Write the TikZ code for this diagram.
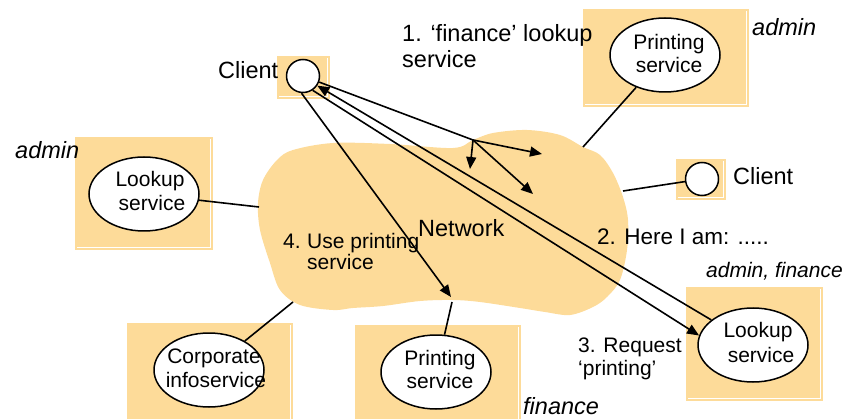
\documentclass[tikz,border=0pt]{standalone}
\usepackage{fontspec}
\setmainfont{Liberation Sans}
\usetikzlibrary{arrows.meta,shapes.geometric}
\definecolor{boxfill}{RGB}{253,219,153}
\begin{document}
\begin{tikzpicture}[x=1pt,y=-1pt,
  txt/.style={inner sep=0pt, anchor=base west, font=\fontsize{21}{24}\selectfont},
  bigtxt/.style={txt, font=\fontsize{23.5}{26}\selectfont},
  itxt/.style={txt, font=\fontsize{21}{24}\selectfont\itshape},
  bigitxt/.style={txt, font=\fontsize{23.5}{26}\selectfont\itshape},
  ctxt/.style={inner sep=0pt, anchor=base, font=\fontsize{21}{24}\selectfont},
  ln/.style={line width=1.6pt, black},
  arr/.style={ln, -{Triangle[length=12pt,width=10pt]}},
  ell/.style={ellipse, draw, line width=1.5pt, fill=white, minimum width=110pt, minimum height=74pt, inner sep=0pt},
  cli/.style={circle, draw, line width=1.5pt, fill=white, minimum size=33pt, inner sep=0pt},
  hl/.style={white, line width=0.8pt}
]
\useasboundingbox (0,0) rectangle (845,419);

% boxes
\fill[boxfill] (583,9) rectangle (749,107);
\draw[hl] (746,11) -- (746,104) -- (585,104);
\fill[boxfill] (277,56) rectangle (330,99);
\draw[hl] (327,58) -- (327,96) -- (279,96);
\fill[boxfill] (676,159) rectangle (726,200);
\draw[hl] (723,161) -- (723,197) -- (678,197);
\fill[boxfill] (75,137) rectangle (213,250);
\draw[hl] (210,139) -- (210,247) -- (77,247);
\fill[boxfill] (127,323) rectangle (293,419);
\draw[hl] (290,325) -- (290,419);
\fill[boxfill] (355,325) rectangle (521,419);
\draw[hl] (518,327) -- (518,419);
\fill[boxfill] (686,287) rectangle (823,401);
\draw[hl] (820,289) -- (820,398) -- (688,398);

% cloud
\fill[boxfill] plot[smooth cycle, tension=0.55] coordinates {
 (277,160) (293,150) (333,143) (390,144) (453,148) (473,140) (493,133) (527,130)
 (560,135) (583,147) (600,155) (613,173) (623,197) (628,220) (627,250) (620,280)
 (607,297) (593,307) (570,315) (545,312) (520,308) (480,302) (453,300) (420,301)
 (383,306) (353,308) (333,310) (300,305) (280,290) (270,263) (260,230) (258,203) (263,180)};

\coordinate (cL) at (259,207);
\coordinate (cCorp) at (293,302);
\coordinate (cPB) at (452,302);
\coordinate (cPT) at (583,147);
\coordinate (cCl) at (623,191);
\coordinate (b) at (473,140);
\coordinate (t1) at (542,154);
\coordinate (t2) at (470,169);
\coordinate (t3) at (533,194);
\coordinate (t4) at (451,297);

% service nodes
\node[ell] (psT) at (665,55) {};
\node[ell] (lkL) at (144,194) {};
\node[ell] (corp) at (209,370) {};
\node[ell] (psB) at (436,372) {};
\node[ell] (lkR) at (753,345) {};
\node[cli] (clA) at (303,76) {};
\node[cli] (clB) at (702,179) {};

% connectors to network
\draw[ln] (lkL) -- (cL);
\draw[ln] (corp) -- (cCorp);
\draw[ln] (psB) -- (cPB);
\draw[ln] (psT) -- (cPT);
\draw[ln] (clB) -- (cCl);

% messages
\draw[ln] (clA) -- (b);
\draw[arr] (b) -- (t1);
\draw[arr] (b) -- (t2);
\draw[arr] (b) -- (t3);
\draw[arr] (lkR.149) -- (clA.-34);
\draw[arr] (clA.-56) -- (lkR.170);
\draw[arr] (clA.-95) -- (t4);

% ellipse labels
\node[ctxt] (psT1) at (669,50) {Printing};
\node[ctxt] (psT2) at (669,73) {service};
\node[ctxt] (lkL1) at (150,187) {Lookup};
\node[ctxt] (lkL2) at (152,211) {service};
\node[ctxt] (corp1) at (214,363) {Corporate};
\node[ctxt] (corp2) at (216,387) {infoservice};
\node[ctxt] (psB1) at (440,365) {Printing};
\node[ctxt] (psB2) at (440,388) {service};
\node[ctxt] (lkR1) at (758,337) {Lookup};
\node[ctxt] (lkR2) at (761,362) {service};

% other labels
\node[bigtxt] (m1a) at (402,42) {1. ‘finance’ lookup};
\node[bigtxt] (m1b) at (402,68) {service};
\node[bigtxt] (cla) at (218,79) {Client};
\node[bigtxt] (clb) at (733,185) {Client};
\node[bigitxt] (adm1) at (752,36) {admin};
\node[bigitxt] (adm2) at (15,159) {admin};
\node[bigtxt] (net) at (418,237) {Network};
\node[txt] (m4n) at (283,249) {4.};
\node[txt] (m4a) at (307,249) {Use printing};
\node[txt] (m4b) at (307,270) {service};
\node[txt, font=\fontsize{22.5}{24}\selectfont] (m2) at (597,245) {2. Here I am: .....};
\node[txt] (m3a) at (578,352) {3. Request};
\node[txt] (m3b) at (578,375) {‘printing’};
\node[itxt] (admfin) at (706,278) {admin, finance};
\node[bigitxt] (fin) at (523,414) {finance};
\end{tikzpicture}
\end{document}
